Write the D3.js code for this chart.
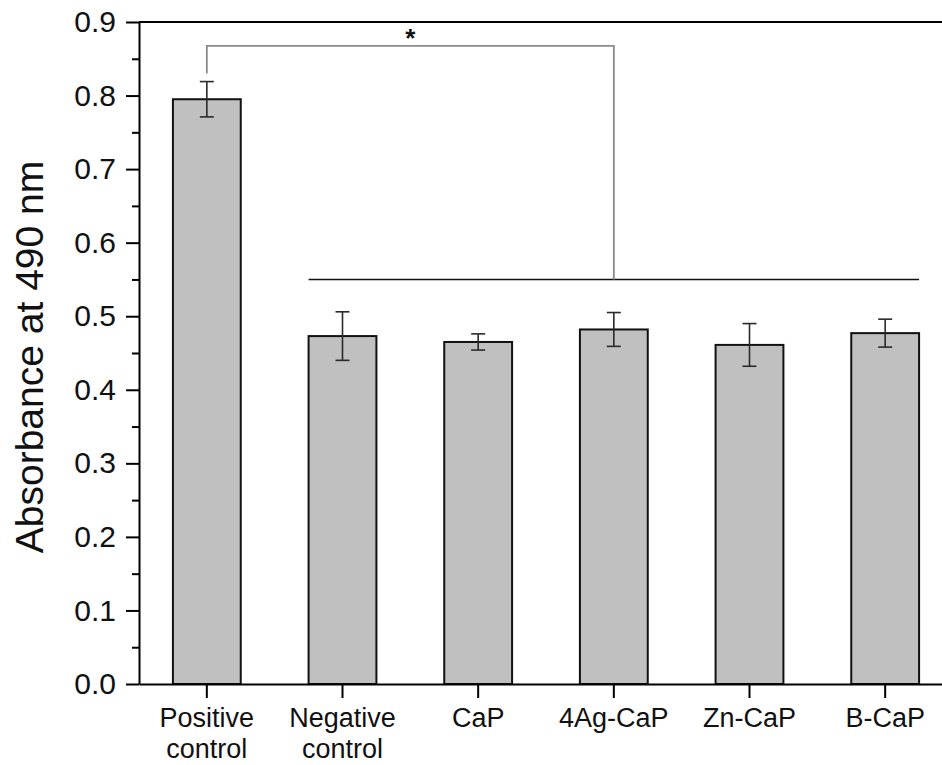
<!DOCTYPE html>
<html>
<head>
<meta charset="utf-8">
<script src="https://cdn.jsdelivr.net/npm/d3@7"></script>
<style>
  html, body { margin: 0; padding: 0; background: #fff; }
  svg { display: block; font-family: "Liberation Sans", Arial, sans-serif; }
</style>
</head>
<body>
<svg id="chart" width="942" height="765"></svg>
<script>
// ---- data ----
const categories = ["Positive control", "Negative control", "CaP", "4Ag-CaP", "Zn-CaP", "B-CaP"];
const means  = [0.795, 0.473, 0.465, 0.482, 0.461, 0.477];
const errors = [0.024, 0.033, 0.011, 0.023, 0.029, 0.019];
const yTicks = [0, 0.1, 0.2, 0.3, 0.4, 0.5, 0.6, 0.7, 0.8, 0.9];
const yMinorTicks = [0.05, 0.15, 0.25, 0.35, 0.45, 0.55, 0.65, 0.75, 0.85];
const yLabel = "Absorbance at 490 nm";
// significance annotation: bracket from Positive control to group line
const sigFrom = "Positive control";
const sigTo = "4Ag-CaP";
const sigStartValue = 0.830;
const sigTopValue = 0.8675;
const groupLineValue = 0.550;
const groupFrom = "Negative control";
const groupTo = "B-CaP";
const sigMark = "*";

(function () {
// ---- layout ----
const svg = d3.select("#chart");
const mLeft = 139, mTop = 22, mBottom = 684, mRight = 953;

const x = d3.scaleBand().domain(categories).range([mLeft, mRight])
  .paddingInner(0.5).paddingOuter(0.25);
const y = d3.scaleLinear().domain([0, 0.9]).range([mBottom, mTop]);

const data = categories.map((c, i) => ({ c, m: means[i], e: errors[i] }));

// bars
svg.append("g").selectAll("rect").data(data).join("rect")
  .attr("x", d => x(d.c))
  .attr("y", d => y(d.m))
  .attr("width", x.bandwidth())
  .attr("height", d => y(0) - y(d.m))
  .attr("fill", "#c0c0c0")
  .attr("stroke", "#111")
  .attr("stroke-width", 2);

// error bars
const capW = 14;
const eg = svg.append("g").attr("stroke", "#2a2a2a").attr("stroke-width", 1.6).attr("fill", "none");
data.forEach(d => {
  const cx = x(d.c) + x.bandwidth() / 2;
  eg.append("line").attr("x1", cx).attr("x2", cx).attr("y1", y(d.m + d.e)).attr("y2", y(d.m - d.e));
  eg.append("line").attr("x1", cx - capW / 2).attr("x2", cx + capW / 2).attr("y1", y(d.m + d.e)).attr("y2", y(d.m + d.e));
  eg.append("line").attr("x1", cx - capW / 2).attr("x2", cx + capW / 2).attr("y1", y(d.m - d.e)).attr("y2", y(d.m - d.e));
});

// group line
svg.append("line")
  .attr("x1", x(groupFrom)).attr("x2", x(groupTo) + x.bandwidth())
  .attr("y1", y(groupLineValue)).attr("y2", y(groupLineValue))
  .attr("stroke", "#111").attr("stroke-width", 1.5);

// significance bracket
const bx1 = x(sigFrom) + x.bandwidth() / 2;
const bx2 = x(sigTo) + x.bandwidth() / 2;
svg.append("path")
  .attr("d", `M${bx1},${y(sigStartValue)} V${y(sigTopValue)} H${bx2} V${y(groupLineValue)}`)
  .attr("fill", "none").attr("stroke", "#8a8a8a").attr("stroke-width", 1.8);
svg.append("text")
  .attr("x", (bx1 + bx2) / 2).attr("y", y(sigTopValue) + 1.5)
  .attr("text-anchor", "middle")
  .attr("font-size", 26).attr("font-weight", "bold").attr("fill", "#111")
  .text(sigMark);

// frame: top line
svg.append("line").attr("x1", mLeft).attr("x2", mRight).attr("y1", mTop).attr("y2", mTop)
  .attr("stroke", "#000").attr("stroke-width", 2);

// y minor ticks
const yMinor = svg.append("g").attr("transform", `translate(${mLeft},0)`)
  .call(d3.axisLeft(y).tickValues(yMinorTicks).tickSize(7).tickFormat(""));
yMinor.select(".domain").remove();
yMinor.selectAll("line").attr("stroke", "#000").attr("stroke-width", 2);

// y axis
const yAxis = svg.append("g").attr("transform", `translate(${mLeft},0)`)
  .call(d3.axisLeft(y).tickValues(yTicks).tickSize(13).tickSizeOuter(0).tickPadding(10).tickFormat(d3.format(".1f")));
yAxis.select(".domain").attr("stroke", "#000").attr("stroke-width", 2);
yAxis.selectAll("line").attr("stroke", "#000").attr("stroke-width", 2);
yAxis.selectAll("text").attr("font-size", 30).attr("fill", "#111")
  .attr("font-family", "'Liberation Sans', Arial, sans-serif");

// x axis
const xAxis = svg.append("g").attr("transform", `translate(0,${mBottom})`)
  .call(d3.axisBottom(x).tickSize(14).tickSizeOuter(0));
xAxis.select(".domain").attr("stroke", "#000").attr("stroke-width", 2);
xAxis.selectAll("line").attr("stroke", "#000").attr("stroke-width", 2);
xAxis.selectAll("text").each(function (d) {
  const t = d3.select(this);
  t.text(null).attr("y", 0).attr("dy", null)
    .attr("font-size", 27).attr("fill", "#111")
    .attr("font-family", "'Liberation Sans', Arial, sans-serif");
  const parts = d.split(" ");
  parts.forEach((p, i) => {
    t.append("tspan").attr("x", 0).attr("y", 43 + i * 31).text(p);
  });
});

// y label
svg.append("text")
  .attr("transform", `translate(43,${(mTop + mBottom) / 2 + 4}) rotate(-90)`)
  .attr("text-anchor", "middle")
  .attr("font-size", 39).attr("fill", "#111")
  .text(yLabel);
})();
</script>
</body>
</html>
